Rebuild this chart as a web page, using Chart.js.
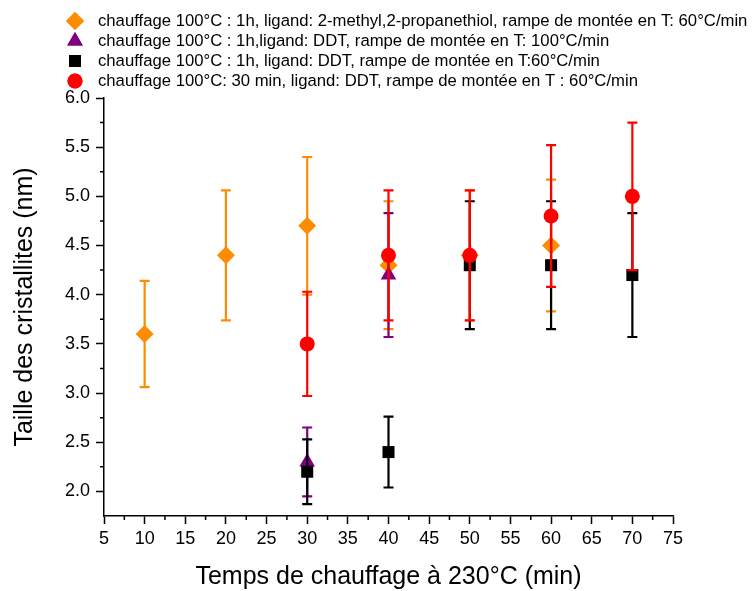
<!DOCTYPE html>
<html>
<head>
<meta charset="utf-8">
<script src="https://cdn.jsdelivr.net/npm/chart.js@4/dist/chart.umd.min.js"></script>
<style>
  body { margin: 0; background: #fff; }
  canvas { display: block; }
</style>
</head>
<body>
<canvas id="chart" width="754" height="591"></canvas>
<script>
// series: x (min), crystallite size (nm), error (+/-)
const labels = [
    'chauffage 100°C : 1h, ligand: 2-methyl,2-propanethiol, rampe de montée en T: 60°C/min',
    'chauffage 100°C : 1h,ligand: DDT, rampe de montée en T: 100°C/min',
    'chauffage 100°C : 1h, ligand: DDT, rampe de montée en T:60°C/min',
    'chauffage 100°C: 30 min, ligand: DDT, rampe de montée en T : 60°C/min'
];

const xOrange = [10, 20, 30, 40, 50, 60];
const yOrange = [3.6, 4.4, 4.7, 4.3, 4.4, 4.5];
const eOrange = [0.54, 0.66, 0.7, 0.65, 0.66, 0.67];

const xPurple = [30, 40];
const yPurple = [2.3, 4.2];
const ePurple = [0.35, 0.63];

const xBlack = [30, 40, 50, 60, 70];
const yBlack = [2.2, 2.4, 4.3, 4.3, 4.2];
const eBlack = [0.33, 0.36, 0.65, 0.65, 0.63];

const xRed = [30, 40, 50, 60, 70];
const yRed = [3.5, 4.4, 4.4, 4.8, 5.0];
const eRed = [0.53, 0.66, 0.66, 0.72, 0.75];

const xTicks = [5, 10, 15, 20, 25, 30, 35, 40, 45, 50, 55, 60, 65, 70, 75];
const xMinorTicks = [7.5, 12.5, 17.5, 22.5, 27.5, 32.5, 37.5, 42.5, 47.5, 52.5, 57.5, 62.5, 67.5, 72.5];
const yTicks = [2.0, 2.5, 3.0, 3.5, 4.0, 4.5, 5.0, 5.5, 6.0];
const yMinorTicks = [2.25, 2.75, 3.25, 3.75, 4.25, 4.75, 5.25, 5.75];

const FONT = "'Liberation Sans', Arial, sans-serif";

function toPoints(xs, ys) {
    return xs.map((x, i) => ({ x: x, y: ys[i] }));
}

// draws vertical error bars under each dataset's markers
const errorBars = {
    id: 'errorBars',
    beforeDatasetDraw(chart, args) {
        const ds = chart.data.datasets[args.index];
        if (!ds.errors) return;
        const ctx = chart.ctx;
        const xs = chart.scales.x;
        const ys = chart.scales.y;
        ctx.save();
        ctx.strokeStyle = ds.backgroundColor;
        ctx.lineWidth = 2.2;
        ds.data.forEach((p, i) => {
            const px = xs.getPixelForValue(p.x);
            const top = ys.getPixelForValue(p.y + ds.errors[i]);
            const bot = ys.getPixelForValue(p.y - ds.errors[i]);
            ctx.beginPath();
            ctx.moveTo(px, top);
            ctx.lineTo(px, bot);
            ctx.moveTo(px - 5, top);
            ctx.lineTo(px + 5, top);
            ctx.moveTo(px - 5, bot);
            ctx.lineTo(px + 5, bot);
            ctx.stroke();
        });
        ctx.restore();
    }
};

// short minor ticks + the legend block at the top
const extras = {
    id: 'extras',
    afterDraw(chart) {
        const ctx = chart.ctx;
        const xs = chart.scales.x;
        const ys = chart.scales.y;
        const area = chart.chartArea;
        ctx.save();
        ctx.strokeStyle = '#000';
        ctx.lineWidth = 1.5;
        ctx.beginPath();
        xMinorTicks.forEach(v => {
            const px = xs.getPixelForValue(v);
            ctx.moveTo(px, area.bottom);
            ctx.lineTo(px, area.bottom + 4);
        });
        yMinorTicks.forEach(v => {
            const py = ys.getPixelForValue(v);
            ctx.moveTo(area.left, py);
            ctx.lineTo(area.left - 4, py);
        });
        ctx.stroke();

        // legend
        ctx.font = '16.7px ' + FONT;
        ctx.textBaseline = 'middle';
        ctx.textAlign = 'left';
        chart.data.datasets.forEach((ds, i) => {
            const y = 21 + i * 20;
            ctx.fillStyle = ds.backgroundColor;
            Chart.helpers.drawPoint(ctx, {
                pointStyle: ds.pointStyle,
                radius: ds.pointRadius,
                rotation: 0,
                borderWidth: 0
            }, 75, y);
            ctx.fill();
            ctx.fillStyle = '#000';
            ctx.fillText(ds.label, 98, y);
        });
        ctx.restore();
    }
};

new Chart(document.getElementById('chart'), {
    type: 'scatter',
    data: {
        datasets: [
            {
                label: labels[0],
                data: toPoints(xOrange, yOrange),
                errors: eOrange,
                backgroundColor: '#FF8C00',
                pointStyle: 'rectRot',
                pointRadius: 9,
                order: 4
            },
            {
                label: labels[1],
                data: toPoints(xPurple, yPurple),
                errors: ePurple,
                backgroundColor: '#800080',
                pointStyle: 'triangle',
                pointRadius: 9,
                order: 3
            },
            {
                label: labels[2],
                data: toPoints(xBlack, yBlack),
                errors: eBlack,
                backgroundColor: '#000000',
                pointStyle: 'rect',
                pointRadius: 8.5,
                order: 2
            },
            {
                label: labels[3],
                data: toPoints(xRed, yRed),
                errors: eRed,
                backgroundColor: '#FF0000',
                pointStyle: 'circle',
                pointRadius: 7.5,
                order: 1
            }
        ]
    },
    options: {
        responsive: false,
        animation: false,
        events: [],
        layout: { padding: { top: 98, right: 81, bottom: 0, left: 0 } },
        elements: { point: { borderWidth: 0, hoverRadius: 0 } },
        plugins: {
            legend: { display: false },
            tooltip: { enabled: false }
        },
        scales: {
            x: {
                type: 'linear',
                min: 5,
                max: 75,
                afterBuildTicks: axis => { axis.ticks = xTicks.map(v => ({ value: v })); },
                afterFit: axis => { axis.height = 75; },
                grid: { drawOnChartArea: false, tickLength: 8, tickColor: '#000', tickWidth: 1.5 },
                border: { color: '#000', width: 1.5 },
                ticks: { color: '#000', font: { family: FONT, size: 18 }, padding: 4, maxRotation: 0 },
                title: {
                    display: true,
                    text: 'Temps de chauffage à 230°C (min)',
                    color: '#000',
                    font: { family: FONT, size: 25, lineHeight: 1.1 },
                    padding: { top: 0, bottom: 0 }
                }
            },
            y: {
                type: 'linear',
                min: 1.75,
                max: 6,
                afterBuildTicks: axis => { axis.ticks = yTicks.map(v => ({ value: v })); },
                afterFit: axis => { axis.width = 104; },
                grid: { drawOnChartArea: false, tickLength: 8, tickColor: '#000', tickWidth: 1.5 },
                border: { color: '#000', width: 1.5 },
                ticks: {
                    color: '#000',
                    font: { family: FONT, size: 18 },
                    padding: 6,
                    callback: v => v.toFixed(1)
                },
                title: {
                    display: true,
                    text: 'Taille des cristallites (nm)',
                    color: '#000',
                    font: { family: FONT, size: 25, lineHeight: 1.1 },
                    padding: { top: 11, bottom: 0 }
                }
            }
        }
    },
    plugins: [errorBars, extras]
});
</script>
</body>
</html>
